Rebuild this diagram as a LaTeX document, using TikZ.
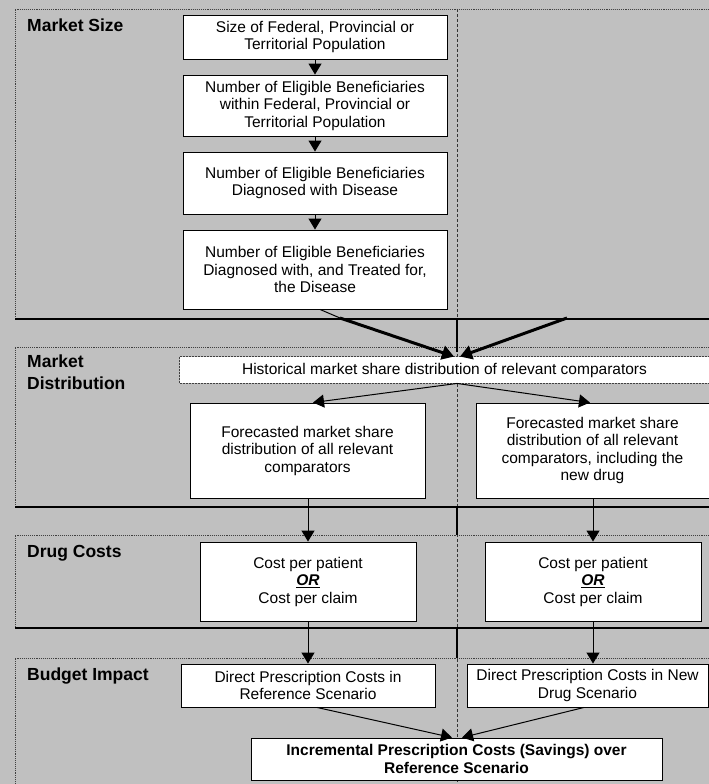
\documentclass[tikz,border=0pt]{standalone}
\usepackage{fontspec}
\setmainfont{Liberation Sans}
\usetikzlibrary{arrows.meta}
\definecolor{bg}{HTML}{C0C0C0}
\begin{document}
\begin{tikzpicture}[x=1pt,y=-1pt,
  box/.style={draw=black, fill=white, line width=0.9pt, align=center, inner sep=0pt,
    font=\fontsize{15.5}{17.5}\selectfont},
  boldbox/.style={box, font=\bfseries\fontsize{15.5}{17.5}\selectfont},
  seclabel/.style={anchor=base west, inner sep=0pt, font=\bfseries\fontsize{17.5}{21}\selectfont},
  sepline/.style={line width=2pt, black},
  dots/.style={densely dotted, line width=0.9pt, black!75},
  vdash/.style={dash pattern=on 3pt off 2pt, line width=0.7pt, black!80},
  arr/.style={-{Triangle[width=13pt,length=11pt]}, line width=1pt},
  thickarr/.style={-{Triangle[width=14pt,length=12pt]}, line width=3pt},
]
\fill[bg] (0,0) rectangle (709,784);
\useasboundingbox (0,0) rectangle (709,784);

% named reference points
\coordinate (vt) at (457,9);
\coordinate (vb) at (457,784);
\coordinate (rin) at (567,318);
\coordinate (lbend) at (340,318);

% section frames (dotted)
\draw[dots] (709,9) -- (15,9) -- (15,319);
\draw[dots] (709,347) -- (15,347) -- (15,507);
\draw[dots] (709,535) -- (15,535) -- (15,628);
\draw[dots] (709,658) -- (15,658) -- (15,784);

% vertical divider
\draw[vdash] (vt) -- (vb);
\draw[line width=1.2pt] (457,319) -- (457,352);
\draw[line width=1.2pt] (457,507) -- (457,535);
\draw[line width=1.2pt] (457,628) -- (457,658);

% thick separators
\draw[sepline] (15,319) -- (709,319);
\draw[sepline] (15,507) -- (709,507);
\draw[sepline] (15,628) -- (709,628);

% section labels
\node[seclabel] (l1) at (27,32) {Market Size};
\node[seclabel] (l2a) at (27,367) {Market};
\node[seclabel] (l2b) at (27,389) {Distribution};
\node[seclabel] (l3) at (27,557) {Drug Costs};
\node[seclabel] (l4) at (27,680) {Budget Impact};

% Market size boxes
\node[box, minimum width=264pt, minimum height=44pt] (b1) at (315,37)
  {Size of Federal, Provincial or\\Territorial Population};
\node[box, minimum width=264pt, minimum height=61pt] (b2) at (315,105.5)
  {Number of Eligible Beneficiaries\\within Federal, Provincial or\\Territorial Population};
\node[box, minimum width=264pt, minimum height=62pt] (b3) at (315,183)
  {Number of Eligible Beneficiaries\\Diagnosed with Disease};
\node[box, minimum width=264pt, minimum height=79pt] (b4) at (315,269.5)
  {Number of Eligible Beneficiaries\\Diagnosed with, and Treated for,\\the Disease};

\draw[arr] (b1) -- (b2);
\draw[arr] (b2) -- (b3);
\draw[arr] (b3) -- (b4);

% Market distribution
\node[box, draw=none, minimum width=529pt, minimum height=26pt] (hist) at (444.5,370)
  {Historical market share distribution of relevant comparators};
\draw[dots, line width=0.5pt] (hist.north west) rectangle (hist.south east);
\node[box, minimum width=235pt, minimum height=95pt] (f1) at (307.5,450.5)
  {Forecasted market share\\distribution of all relevant\\comparators};
\node[box, minimum width=233pt, minimum height=95pt] (f2) at (592.5,450.5)
  {Forecasted market share\\distribution of all relevant\\comparators, including the\\new drug};

\draw[line width=1pt] ([xshift=5pt]b4.south) -- (lbend);
\draw[thickarr] (lbend) -- ([xshift=-3pt]hist.north -| vt);
\draw[thickarr] (rin) -- ([xshift=3pt]hist.north -| vt);
\draw[arr] (hist.south -| vt) -- ([xshift=5.5pt]f1.north);
\draw[arr] (hist.south -| vt) -- ([xshift=-2.5pt]f2.north);

% Drug costs
\node[box, minimum width=216pt, minimum height=79pt] (c1) at (308,581.5)
  {Cost per patient\\\textbf{\textit{\underline{OR}}}\\Cost per claim};
\node[box, minimum width=216pt, minimum height=79pt] (c2) at (593,581.5)
  {Cost per patient\\\textbf{\textit{\underline{OR}}}\\Cost per claim};

\draw[arr] (f1.south -| c1) -- (c1.north);
\draw[arr] (f2.south -| c2) -- (c2.north);

% Budget impact
\node[box, minimum width=254pt, minimum height=43pt] (d1) at (308,685.5)
  {Direct Prescription Costs in\\Reference Scenario};
\node[box, minimum width=241pt, minimum height=43pt] (d2) at (587.5,685.5)
  {Direct Prescription Costs in New\\Drug Scenario};

\draw[arr] (c1.south) -- (d1.north);
\draw[arr] (c2.south) -- (c2.south |- d2.north);

\node[boldbox, minimum width=411pt, minimum height=42pt] (inc) at (456.5,759)
  {Incremental Prescription Costs (Savings) over\\Reference Scenario};

\draw[arr] ([xshift=9pt]d1.south) -- ([xshift=-5pt]inc.north -| vt);
\draw[arr] ([xshift=-3.5pt]d2.south) -- ([xshift=5pt]inc.north -| vt);
\end{tikzpicture}
\end{document}
